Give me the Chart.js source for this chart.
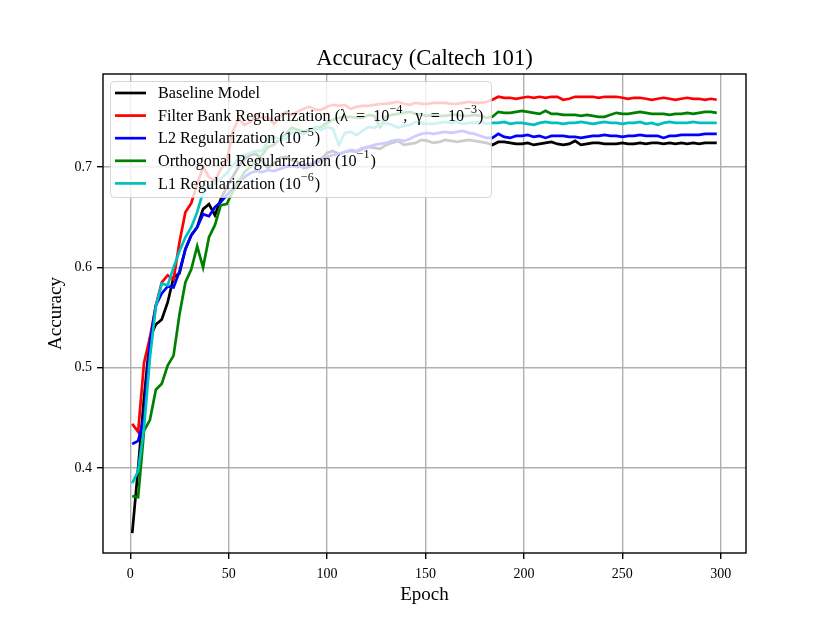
<!DOCTYPE html>
<html>
<head>
<meta charset="utf-8">
<script src="https://cdn.jsdelivr.net/npm/chart.js@4.4.1/dist/chart.umd.min.js"></script>
<style>
  body { margin: 0; background: #fff; }
  canvas { display: block; }
</style>
</head>
<body>
<canvas id="acc" width="830" height="623"></canvas>
<script>
// epochs where accuracy was measured (every 3 epochs)
const epochs = Array.from({ length: 100 }, (_, i) => 1 + 3 * i);

const baseline = [
    0.335, 0.400, 0.470, 0.530, 0.543, 0.548, 0.565, 0.590, 0.594, 0.618,
    0.632, 0.640, 0.658, 0.663, 0.652, 0.668, 0.680, 0.690, 0.700, 0.708,
    0.712, 0.713, 0.706, 0.699, 0.704, 0.709, 0.710, 0.707, 0.705, 0.699,
    0.700, 0.705, 0.708, 0.714, 0.716, 0.713, 0.715, 0.716, 0.715, 0.718,
    0.720, 0.719, 0.718, 0.722, 0.724, 0.726, 0.722, 0.723, 0.724, 0.727,
    0.726, 0.724, 0.725, 0.727, 0.726, 0.725, 0.726, 0.727, 0.726, 0.725,
    0.724, 0.722, 0.725, 0.725, 0.724, 0.723, 0.723, 0.724, 0.722, 0.723,
    0.724, 0.725, 0.723, 0.722, 0.723, 0.726, 0.722, 0.723, 0.724, 0.724,
    0.723, 0.723, 0.723, 0.724, 0.723, 0.723, 0.724, 0.723, 0.724, 0.724,
    0.723, 0.724, 0.723, 0.724, 0.723, 0.724, 0.723, 0.724, 0.724, 0.724
];
const filterBank = [
    0.444, 0.436, 0.505, 0.530, 0.562, 0.585, 0.592, 0.588, 0.625, 0.655,
    0.664, 0.683, 0.700, 0.690, 0.686, 0.698, 0.705, 0.735, 0.748, 0.742,
    0.745, 0.752, 0.749, 0.750, 0.743, 0.750, 0.755, 0.752, 0.755, 0.758,
    0.760, 0.757, 0.757, 0.760, 0.762, 0.761, 0.762, 0.758, 0.760, 0.761,
    0.761, 0.762, 0.763, 0.763, 0.764, 0.765, 0.763, 0.762, 0.764, 0.763,
    0.763, 0.764, 0.764, 0.764, 0.763, 0.763, 0.764, 0.765, 0.764, 0.764,
    0.765, 0.767, 0.770, 0.769, 0.769, 0.768, 0.769, 0.770, 0.769, 0.770,
    0.769, 0.770, 0.770, 0.767, 0.768, 0.770, 0.770, 0.770, 0.770, 0.769,
    0.770, 0.770, 0.770, 0.769, 0.768, 0.769, 0.769, 0.768, 0.767, 0.768,
    0.769, 0.768, 0.767, 0.768, 0.769, 0.768, 0.768, 0.767, 0.768, 0.767
];
const l2Reg = [
    0.424, 0.427, 0.450, 0.525, 0.562, 0.574, 0.581, 0.580, 0.596, 0.618,
    0.632, 0.640, 0.653, 0.651, 0.660, 0.665, 0.672, 0.678, 0.686, 0.690,
    0.694, 0.696, 0.695, 0.697, 0.696, 0.698, 0.700, 0.701, 0.700, 0.702,
    0.703, 0.704, 0.706, 0.710, 0.712, 0.713, 0.715, 0.717, 0.716, 0.719,
    0.720, 0.722, 0.723, 0.724, 0.726, 0.727, 0.726, 0.728, 0.731, 0.733,
    0.734, 0.733, 0.734, 0.735, 0.734, 0.735, 0.736, 0.734, 0.733, 0.731,
    0.729, 0.729, 0.733, 0.730, 0.729, 0.731, 0.731, 0.732, 0.730, 0.731,
    0.729, 0.731, 0.731, 0.731, 0.730, 0.730, 0.729, 0.730, 0.731, 0.731,
    0.732, 0.731, 0.731, 0.730, 0.731, 0.731, 0.732, 0.731, 0.731, 0.731,
    0.729, 0.731, 0.731, 0.732, 0.732, 0.732, 0.732, 0.733, 0.733, 0.733
];
const orthogonal = [
    0.372, 0.371, 0.437, 0.448, 0.478, 0.484, 0.502, 0.512, 0.553, 0.585,
    0.598, 0.621, 0.600, 0.630, 0.642, 0.662, 0.663, 0.675, 0.685, 0.695,
    0.700, 0.706, 0.712, 0.720, 0.722, 0.728, 0.733, 0.739, 0.737, 0.735,
    0.737, 0.738, 0.740, 0.744, 0.747, 0.749, 0.750, 0.750, 0.749, 0.749,
    0.752, 0.751, 0.740, 0.750, 0.752, 0.753, 0.754, 0.755, 0.753, 0.752,
    0.751, 0.752, 0.751, 0.751, 0.752, 0.752, 0.751, 0.751, 0.752, 0.751,
    0.749, 0.750, 0.755, 0.754, 0.754, 0.755, 0.756, 0.755, 0.754, 0.753,
    0.756, 0.753, 0.753, 0.752, 0.752, 0.752, 0.751, 0.752, 0.751, 0.750,
    0.750, 0.752, 0.754, 0.753, 0.753, 0.754, 0.755, 0.754, 0.753, 0.753,
    0.753, 0.752, 0.753, 0.753, 0.754, 0.753, 0.754, 0.755, 0.755, 0.754
];
const l1Reg = [
    0.385, 0.397, 0.440, 0.510, 0.561, 0.584, 0.582, 0.600, 0.616, 0.630,
    0.640, 0.655, 0.675, 0.680, 0.684, 0.688, 0.694, 0.702, 0.708, 0.712,
    0.714, 0.716, 0.716, 0.726, 0.730, 0.727, 0.728, 0.735, 0.734, 0.733,
    0.736, 0.740, 0.737, 0.740, 0.738, 0.722, 0.734, 0.735, 0.732, 0.736,
    0.740, 0.739, 0.742, 0.744, 0.742, 0.739, 0.741, 0.742, 0.745, 0.744,
    0.743, 0.743, 0.744, 0.745, 0.744, 0.745, 0.743, 0.744, 0.744, 0.745,
    0.743, 0.744, 0.744, 0.745, 0.743, 0.744, 0.744, 0.743, 0.742, 0.744,
    0.745, 0.744, 0.744, 0.743, 0.744, 0.744, 0.745, 0.744, 0.743, 0.744,
    0.745, 0.744, 0.744, 0.743, 0.744, 0.744, 0.745, 0.743, 0.744, 0.742,
    0.744, 0.745, 0.744, 0.744, 0.744, 0.745, 0.744, 0.744, 0.744, 0.744
];

const xTicks = [0, 50, 100, 150, 200, 250, 300];
const yTicks = [0.4, 0.5, 0.6, 0.7];

const serif = '"Liberation Serif", "DejaVu Serif", serif';

// legend labels, split so the exponents can be raised
const legendItems = [
    { color: '#000000', parts: [['Baseline Model']] },
    { color: '#ff0000', parts: [['Filter Bank Regularization (\u03bb\u2002=\u200210'], ['\u22124', 1], [',\u2002\u03b3\u2002=\u200210'], ['\u22123', 1], [')']] },
    { color: '#0000ff', parts: [['L2 Regularization (10'], ['\u22125', 1], [')']] },
    { color: '#008000', parts: [['Orthogonal Regularization (10'], ['\u22121', 1], [')']] },
    { color: '#00bfbf', parts: [['L1 Regularization (10'], ['\u22126', 1], [')']] }
];

function toPoints(values) {
    return values.map((v, i) => ({ x: epochs[i], y: v }));
}

function drawRich(ctx, parts, x, y, size) {
    parts.forEach(([text, sup]) => {
        const s = sup ? size * 0.75 : size;
        ctx.font = s + 'px ' + serif;
        ctx.fillText(text, x, sup ? y - size * 0.42 : y);
        x += ctx.measureText(text).width + (sup ? 1 : 0);
    });
}

// frame, titles and the in-plot legend
const decorations = {
    id: 'decorations',
    afterDatasetsDraw(chart) {
        const ctx = chart.ctx;
        const a = chart.chartArea;
        ctx.save();
        ctx.strokeStyle = '#000';
        ctx.lineWidth = 1.4;
        ctx.strokeRect(a.left, a.top, a.right - a.left, a.bottom - a.top);

        // legend box
        const bx = 110.5, by = 81.5, bw = 381, bh = 116;
        ctx.beginPath();
        ctx.roundRect(bx, by, bw, bh, 4);
        ctx.fillStyle = 'rgba(255,255,255,0.8)';
        ctx.fill();
        ctx.strokeStyle = 'rgba(204,204,204,0.8)';
        ctx.lineWidth = 1;
        ctx.stroke();

        ctx.textBaseline = 'middle';
        ctx.textAlign = 'left';
        legendItems.forEach((item, i) => {
            const y = 93 + i * 22.6;
            ctx.strokeStyle = item.color;
            ctx.lineWidth = 2.7;
            ctx.beginPath();
            ctx.moveTo(115, y);
            ctx.lineTo(146, y);
            ctx.stroke();
            ctx.fillStyle = '#000';
            drawRich(ctx, item.parts, 158, y + 1, 16.2);
        });

        // title and axis labels
        ctx.fillStyle = '#000';
        ctx.textAlign = 'center';
        ctx.font = '22.7px ' + serif;
        ctx.fillText('Accuracy (Caltech 101)', (a.left + a.right) / 2, 59);
        ctx.font = '19px ' + serif;
        ctx.fillText('Epoch', (a.left + a.right) / 2, 595);
        ctx.translate(56, (a.top + a.bottom) / 2);
        ctx.rotate(-Math.PI / 2);
        ctx.fillText('Accuracy', 0, 0);
        ctx.restore();
    }
};

const gridOpts = {
    color: '#b0b0b0',
    lineWidth: 1.4,
    tickColor: '#000',
    tickWidth: 1.4,
    tickLength: 6
};

function line(label, values, color, order) {
    return {
        label,
        data: toPoints(values),
        borderColor: color,
        backgroundColor: color,
        borderWidth: 2.7,
        pointRadius: 0,
        tension: 0,
        order
    };
}

new Chart(document.getElementById('acc').getContext('2d'), {
    type: 'line',
    data: {
        datasets: [
            line('Baseline Model', baseline, '#000000', 5),
            line('Filter Bank Regularization', filterBank, '#ff0000', 4),
            line('L2 Regularization', l2Reg, '#0000ff', 3),
            line('Orthogonal Regularization', orthogonal, '#008000', 2),
            line('L1 Regularization', l1Reg, '#00bfbf', 1)
        ]
    },
    options: {
        responsive: false,
        animation: false,
        devicePixelRatio: 1,
        layout: { padding: { left: 0, right: 84, top: 74, bottom: 0 } },
        plugins: {
            legend: { display: false },
            title: { display: false },
            tooltip: { enabled: false }
        },
        scales: {
            x: {
                type: 'linear',
                min: -13.85,
                max: 312.85,
                afterBuildTicks: (s) => { s.ticks = xTicks.map(v => ({ value: v })); },
                afterFit: (s) => { s.height = 70; },
                grid: gridOpts,
                border: { display: false },
                ticks: {
                    color: '#000',
                    padding: 7,
                    maxRotation: 0,
                    font: { family: serif, size: 14 },
                    callback: (v) => String(v)
                }
            },
            y: {
                min: 0.3153,
                max: 0.7927,
                afterBuildTicks: (s) => { s.ticks = yTicks.map(v => ({ value: v })); },
                afterFit: (s) => { s.width = 103; },
                grid: gridOpts,
                border: { display: false },
                ticks: {
                    color: '#000',
                    padding: 5,
                    font: { family: serif, size: 14 },
                    callback: (v) => v.toFixed(1)
                }
            }
        }
    },
    plugins: [decorations]
});
</script>
</body>
</html>
